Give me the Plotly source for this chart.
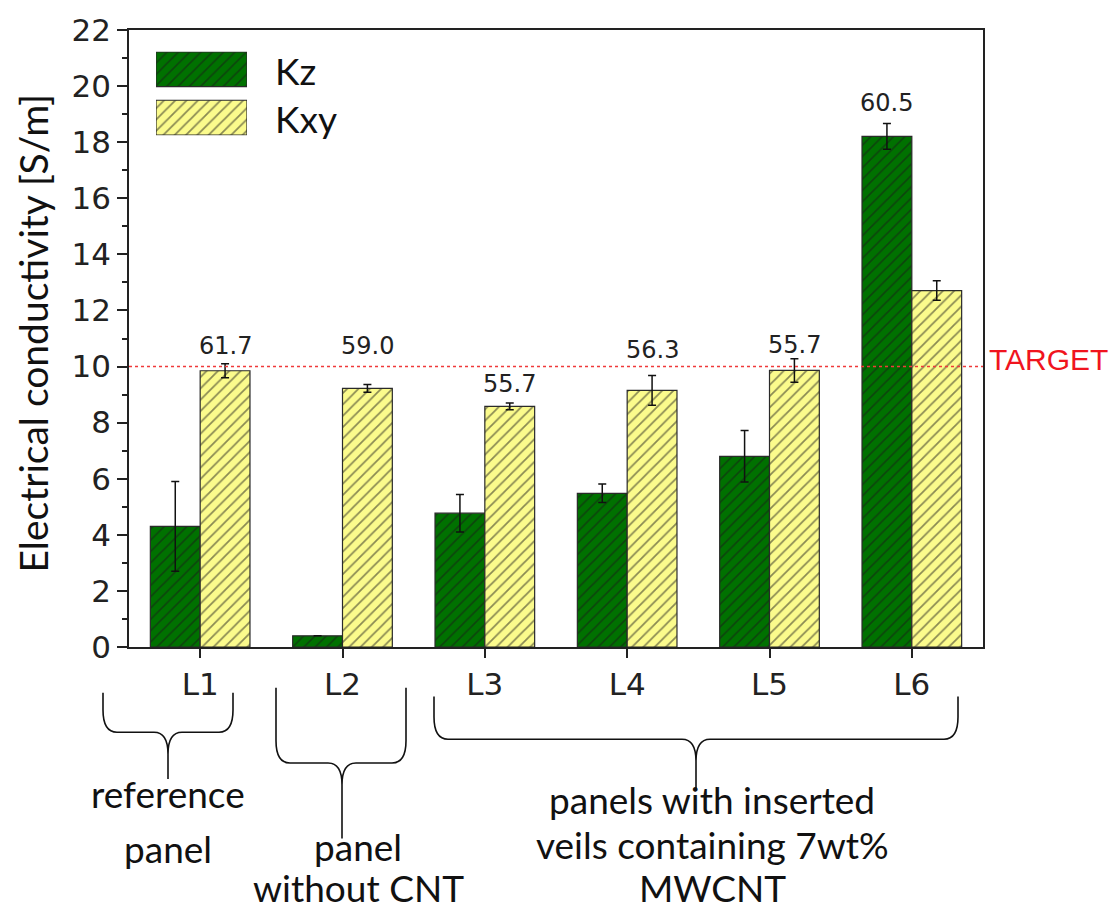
import plotly.graph_objects as go

# ---- data -------------------------------------------------------------
panels = ["L1", "L2", "L3", "L4", "L5", "L6"]
kz_values = [4.3, 0.4, 4.77, 5.48, 6.8, 18.21]
kz_errors = [1.6, 0.0, 0.67, 0.33, 0.92, 0.46]
kxy_values = [9.85, 9.22, 8.58, 9.15, 9.86, 12.71]
kxy_errors = [0.25, 0.14, 0.12, 0.53, 0.42, 0.35]

# numbers printed above one bar of each group, and which series they sit on
top_labels = ["61.7", "59.0", "55.7", "56.3", "55.7", "60.5"]
top_label_series = ["Kxy", "Kxy", "Kxy", "Kxy", "Kxy", "Kz"]
top_label_heights = [10.74, 10.74, 9.36, 10.6, 10.77, 19.4]

target_value = 10

# ---- layout geometry (pixels) -----------------------------------------
W, H = 1118, 912
PL, PR, PT, PB = 129, 983, 25, 647


def paper_x(px):
    return (px - PL) / (PR - PL)


def paper_y(py):
    return (PB - py) / (PB - PT)


GREEN = "#007100"
YELLOW = "#fbfb8c"
HATCH = "#1a1a1a"
EDGE = "#2a2a2a"
GOTHIC = "DejaVu Sans"
SANS = "Lato"


def hatched(color):
    return dict(color=color, line=dict(color=EDGE, width=1.2),
                pattern=dict(shape="/", size=8, solidity=0.22,
                             fgcolor=HATCH, bgcolor=color))


x_idx = list(range(len(panels)))

fig = go.Figure()

fig.add_trace(go.Bar(
    x=x_idx, y=kz_values, name="Kz", marker=hatched(GREEN),
    error_y=dict(type="data", array=kz_errors, color="#111",
                 thickness=1.5, width=4),
    showlegend=False,
))
fig.add_trace(go.Bar(
    x=x_idx, y=kxy_values, name="Kxy", marker=hatched(YELLOW),
    error_y=dict(type="data", array=kxy_errors, color="#111",
                 thickness=1.5, width=4),
    showlegend=False,
))

# legend swatches drawn as hatched bars on a small overlay axis pair
fig.add_trace(go.Bar(
    x=[1], y=[1], base=[0], orientation="h", width=0.72,
    xaxis="x2", yaxis="y2", showlegend=False, hoverinfo="skip",
    marker=hatched(GREEN),
))
fig.add_trace(go.Bar(
    x=[1], y=[0], base=[0], orientation="h", width=0.72,
    xaxis="x2", yaxis="y2", showlegend=False, hoverinfo="skip",
    marker=hatched(YELLOW),
))

annotations = []

# values printed above the bars
bar_half = 0.175
for i, (txt, ser, hy) in enumerate(zip(top_labels, top_label_series, top_label_heights)):
    annotations.append(dict(
        x=i + (bar_half if ser == "Kxy" else -bar_half), y=hy,
        xref="x", yref="y", text=txt, showarrow=False,
        font=dict(family=GOTHIC, size=24, color="#222"),
        xanchor="center", yanchor="middle",
    ))

# legend texts
annotations.append(dict(x=paper_x(273), y=paper_y(66), xref="paper", yref="paper",
                        text="Kz", showarrow=False, xanchor="left", yanchor="middle",
                        font=dict(family=SANS, size=37, color="#111")))
annotations.append(dict(x=paper_x(273), y=paper_y(114), xref="paper", yref="paper",
                        text="Kxy", showarrow=False, xanchor="left", yanchor="middle",
                        font=dict(family=SANS, size=37, color="#111")))

# target label
annotations.append(dict(x=paper_x(987), y=target_value, xref="paper", yref="y",
                        text="TARGET", showarrow=False, xanchor="left", yanchor="middle",
                        yshift=7, font=dict(family="Liberation Sans", size=30, color="#f0141e")))

# y-axis title
annotations.append(dict(x=paper_x(33), y=paper_y(331), xref="paper", yref="paper",
                        text="Electrical conductivity [S/m]", showarrow=False,
                        textangle=-90, xanchor="center", yanchor="middle",
                        font=dict(family=SANS, size=39, color="#111")))

# group captions under the braces, one line each (x centre, y centre in px)
captions = [
    ("reference", 168, 795),
    ("panel", 168, 850),
    ("panel", 358, 848),
    ("without CNT", 358, 889),
    ("panels with inserted", 712, 801),
    ("veils containing 7wt%", 712, 846),
    ("MWCNT", 712, 889),
]
for txt, cx, cy in captions:
    annotations.append(dict(x=paper_x(cx), y=paper_y(cy), xref="paper", yref="paper",
                            text=txt, showarrow=False, xanchor="center", yanchor="middle",
                            font=dict(family=SANS, size=37, color="#111")))


def brace_path(x0, x1, xm, yt, ym, yb):
    X = paper_x
    Y = paper_y
    c = 14  # corner size in px
    t = 22  # tip curve height in px
    return (
        f"M {X(x0)},{Y(yt)} L {X(x0)},{Y(ym - c * 1.6)} "
        f"Q {X(x0)},{Y(ym)} {X(x0 + c)},{Y(ym)} "
        f"L {X(xm - c)},{Y(ym)} "
        f"Q {X(xm)},{Y(ym)} {X(xm)},{Y(ym + t)} "
        f"L {X(xm)},{Y(yb)} "
        f"M {X(x1)},{Y(yt)} L {X(x1)},{Y(ym - c * 1.6)} "
        f"Q {X(x1)},{Y(ym)} {X(x1 - c)},{Y(ym)} "
        f"L {X(xm + c)},{Y(ym)} "
        f"Q {X(xm)},{Y(ym)} {X(xm)},{Y(ym + t)}"
    )


braces = [
    (103, 233, 168, 693, 733, 780),
    (276, 406, 342, 688, 764, 840),
    (434, 958, 696, 697, 740, 790),
]

shapes = [
    dict(type="line", xref="paper", yref="y", x0=0, x1=1,
         y0=target_value, y1=target_value, layer="above",
         line=dict(color="#f03a3a", width=1.6, dash="dot")),
]
for b in braces:
    shapes.append(dict(type="path", xref="paper", yref="paper", path=brace_path(*b),
                       line=dict(color="#111", width=1.6)))

fig.update_layout(
    width=W, height=H,
    margin=dict(l=PL, r=W - PR, t=PT, b=H - PB, pad=0),
    paper_bgcolor="white", plot_bgcolor="white",
    barmode="group", bargap=0.3, bargroupgap=0,
    showlegend=False,
    annotations=annotations,
    shapes=shapes,
    xaxis=dict(
        range=[-0.5, 5.5], tickvals=x_idx, ticktext=panels,
        ticks="outside", ticklen=9, tickwidth=1.5, tickcolor="#222",
        showline=True, linecolor="#222", linewidth=1.5, mirror=True,
        showgrid=False, zeroline=False,
        tickfont=dict(family=GOTHIC, size=31, color="#222"),
    ),
    yaxis=dict(
        range=[0, 22], tickvals=list(range(0, 23, 2)),
        ticks="outside", ticklen=10, tickwidth=1.5, tickcolor="#222",
        minor=dict(dtick=1, ticks="outside", ticklen=5, tickwidth=1.5, tickcolor="#222"),
        showline=True, linecolor="#222", linewidth=1.5, mirror=True,
        showgrid=False, zeroline=False,
        tickfont=dict(family=GOTHIC, size=31, color="#222"),
    ),
    xaxis2=dict(domain=[paper_x(156), paper_x(247)], range=[0, 1], anchor="y2",
                visible=False, fixedrange=True),
    yaxis2=dict(domain=[paper_y(131), paper_y(47)], range=[-0.36, 1.36], anchor="x2",
                visible=False, fixedrange=True),
)

fig.write_html("out.html")
